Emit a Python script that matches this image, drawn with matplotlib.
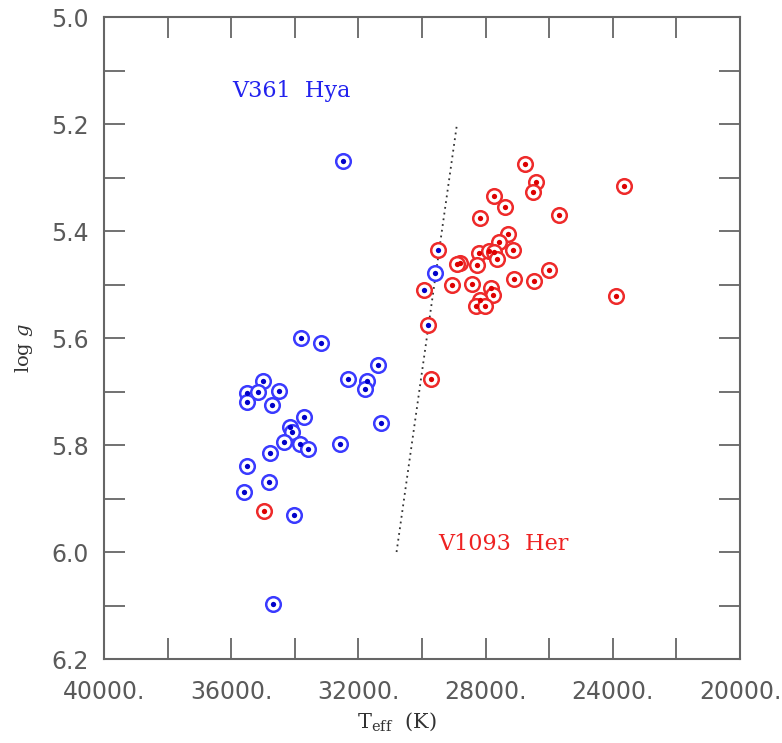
import matplotlib
matplotlib.use("Agg")
import matplotlib.pyplot as plt

# ---- data ----
blue_T = [32500, 33800, 33180, 31370, 35010, 35510, 35170, 34500, 35510, 34730,
          32320, 31720, 31800, 31290, 33720, 34150, 34100, 34340, 33840, 33580,
          32580, 34780, 35510, 34800, 35590, 34040, 34700, 29580]
blue_g = [5.270, 5.600, 5.610, 5.650, 5.680, 5.703, 5.700, 5.699, 5.720, 5.726,
          5.677, 5.680, 5.696, 5.759, 5.748, 5.766, 5.775, 5.794, 5.799, 5.808,
          5.799, 5.815, 5.839, 5.869, 5.887, 5.931, 6.098, 5.478]

mixed_T = [29510, 29930, 29800]
mixed_g = [5.436, 5.511, 5.576]

red_T = [34960, 29730, 26760, 26420, 26500, 23660, 27750, 27400, 28180, 25690,
         27300, 27580, 27130, 28200, 27900, 27750, 27630, 28800, 28900, 28260,
         26000, 27100, 26470, 29070, 28440, 27830, 27760, 23890, 28180, 28300, 28010]
red_g = [5.924, 5.677, 5.275, 5.308, 5.327, 5.315, 5.334, 5.356, 5.375, 5.370,
         5.406, 5.421, 5.435, 5.442, 5.438, 5.440, 5.453, 5.459, 5.461, 5.464,
         5.472, 5.489, 5.493, 5.500, 5.499, 5.506, 5.520, 5.521, 5.529, 5.541, 5.541]

line_T = [30800, 28900]
line_g = [6.0, 5.2]

x_ticks = [40000, 38000, 36000, 34000, 32000, 30000, 28000, 26000, 24000, 22000, 20000]
x_labels = ["40000.", "", "36000.", "", "32000.", "", "28000.", "", "24000.", "", "20000."]
y_ticks = [5.0, 5.1, 5.2, 5.3, 5.4, 5.5, 5.6, 5.7, 5.8, 5.9, 6.0, 6.1, 6.2]
y_labels = ["5.0", "", "5.2", "", "5.4", "", "5.6", "", "5.8", "", "6.0", "", "6.2"]

# ---- figure ----
plt.rcParams['mathtext.fontset'] = 'dejavuserif'
fig = plt.figure(figsize=(7.82, 7.43), dpi=100)
ax = fig.add_axes([104/782, 1-659/743, 636/782, 642/743])

BLUE_RING = '#3a3aff'
BLUE_DOT = '#0000c8'
RED_RING = '#ee2a2a'
RED_DOT = '#dd0000'
ring_ms = 10.5
dot_ms = 3.8
ring_mew = 1.8

ax.plot(line_T, line_g, linestyle=(0, (1, 2.2)), color='#333333', lw=1.3, zorder=1)

ax.plot(blue_T, blue_g, 'o', ms=ring_ms, mfc='white', mec=BLUE_RING, mew=ring_mew, ls='none', zorder=2)
ax.plot(blue_T, blue_g, 'o', ms=dot_ms, mfc=BLUE_DOT, mec=BLUE_DOT, mew=0, ls='none', zorder=3)

ax.plot(red_T, red_g, 'o', ms=ring_ms, mfc='white', mec=RED_RING, mew=ring_mew, ls='none', zorder=2)
ax.plot(red_T, red_g, 'o', ms=dot_ms, mfc=RED_DOT, mec=RED_DOT, mew=0, ls='none', zorder=3)

ax.plot(mixed_T, mixed_g, 'o', ms=ring_ms, mfc='white', mec=RED_RING, mew=ring_mew, ls='none', zorder=2)
ax.plot(mixed_T, mixed_g, 'o', ms=dot_ms, mfc=BLUE_DOT, mec=BLUE_DOT, mew=0, ls='none', zorder=3)

ax.set_xlim(40000, 20000)
ax.set_ylim(6.2, 5.0)

ax.set_xticks(x_ticks)
ax.set_xticklabels(x_labels)
ax.set_yticks(y_ticks)
ax.set_yticklabels(y_labels)

ax.tick_params(axis='both', which='major', direction='in', length=15, width=1.3,
               color='#666666', labelcolor='#5a5a5a', labelsize=17,
               top=True, right=True)
ax.tick_params(axis='x', pad=15)
ax.tick_params(axis='y', pad=11)
for lab in ax.get_xticklabels() + ax.get_yticklabels():
    lab.set_fontfamily('DejaVu Sans')
for s in ax.spines.values():
    s.set_color('#666666')
    s.set_linewidth(1.5)

ax.text(34120, 5.138, 'V361  Hya', color='#2222ee', fontsize=16,
        family='DejaVu Serif', ha='center', va='center')
ax.text(29500, 5.985, 'V1093  Her', color='#ee2222', fontsize=16,
        family='DejaVu Serif', ha='left', va='center')

fig.text(397/782, 1-722/743, r'T$_{\rm eff}$  (K)', fontsize=15, family='DejaVu Serif',
         color='#333333', ha='center', va='center')
fig.text(24/782, 1-348/743, r'log $g$', fontsize=14, family='DejaVu Serif',
         color='#333333', ha='center', va='center', rotation=90)

fig.savefig('out.png', dpi=100, facecolor='white')
